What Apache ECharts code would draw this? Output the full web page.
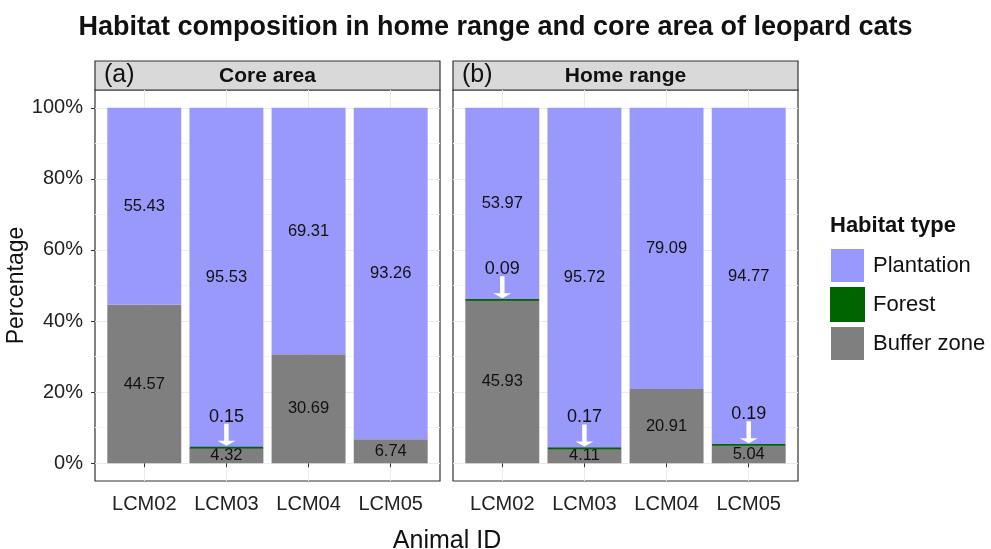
<!DOCTYPE html>
<html>
<head>
<meta charset="utf-8">
<script src="https://cdn.jsdelivr.net/npm/echarts@6/dist/echarts.min.js"></script>
<style>
  html, body { margin: 0; padding: 0; background: #fff; }
  #chart { width: 991px; height: 549px; }
</style>
</head>
<body>
<div id="chart"></div>
<script>
// data
const animalIds = ['LCM02', 'LCM03', 'LCM04', 'LCM05']
const yTicks = [0, 20, 40, 60, 80, 100]
const yMinorTicks = [10, 30, 50, 70, 90]

const coreBuffer = [44.57, 4.32, 30.69, 6.74]
const coreForest = [0, 0.15, 0, 0]
const corePlantation = [55.43, 95.53, 69.31, 93.26]

const homeBuffer = [45.93, 4.11, 20.91, 5.04]
const homeForest = [0.09, 0.17, 0, 0.19]
const homePlantation = [53.97, 95.72, 79.09, 94.77]

const FONT = '"Liberation Sans", Arial, sans-serif'
const colors = { plantation: '#9999fc', forest: '#006400', buffer: '#7f7f7f' }

const chart = echarts.init(document.getElementById('chart'))

const panels = [
  { left: 95, tag: '(a)', title: 'Core area', buffer: coreBuffer, forest: coreForest, plant: corePlantation },
  { left: 453, tag: '(b)', title: 'Home range', buffer: homeBuffer, forest: homeForest, plant: homePlantation }
]
const PW = 345, PT = 90, PH = 391
// ggplot discrete expansion: 0.6 of a band on each side
const unit = PW / 4.2

const grid = []
const xAxis = []
const yAxis = []
const series = []
const graphic = []

panels.forEach((p, i) => {
  const outer = i * 2, inner = i * 2 + 1
  // outer grid: panel border, gridlines, ticks, labels
  grid.push({
    left: p.left, top: PT, width: PW, height: PH,
    show: true, backgroundColor: '#fff', borderColor: '#333', borderWidth: 1.2
  })
  // inner grid: the 4 category bands for the bars
  grid.push({ left: p.left + 0.1 * unit, top: PT, width: 4 * unit, height: PH })

  xAxis.push({
    type: 'value', gridIndex: outer, min: 0.4, max: 4.6,
    axisLine: { show: false },
    axisTick: { show: true, customValues: [1, 2, 3, 4], length: 4, lineStyle: { color: '#333' } },
    axisLabel: {
      customValues: [1, 2, 3, 4], margin: 13,
      formatter: v => animalIds[Math.round(v) - 1],
      fontSize: 20, color: '#222', fontFamily: FONT
    },
    splitLine: { show: true, lineStyle: { color: '#ebebeb', width: 1 } }
  })
  xAxis.push({
    type: 'category', gridIndex: inner, data: animalIds,
    axisLine: { show: false }, axisTick: { show: false }, axisLabel: { show: false },
    splitLine: { show: false }
  })

  // major y (index 3i)
  yAxis.push({
    type: 'value', gridIndex: outer, min: -5, max: 105,
    name: i === 0 ? 'Percentage' : '', nameLocation: 'middle', nameGap: 61,
    nameTextStyle: { fontSize: 23, color: '#111', fontFamily: FONT },
    axisLine: { show: false },
    axisTick: { show: i === 0, customValues: yTicks, length: 4, lineStyle: { color: '#333' } },
    axisLabel: {
      show: i === 0, customValues: yTicks, margin: 12,
      formatter: v => v + '%', fontSize: 20, color: '#222', fontFamily: FONT
    },
    splitLine: { show: true, lineStyle: { color: '#ebebeb', width: 1 } }
  })
  // minor y grid (index 3i+1)
  yAxis.push({
    type: 'value', gridIndex: outer, min: -5, max: 105,
    axisLine: { show: false },
    axisTick: { show: false, customValues: yMinorTicks },
    axisLabel: { show: false },
    splitLine: { show: true, lineStyle: { color: '#f4f4f4', width: 1 } }
  })
  // bar y (index 3i+2)
  yAxis.push({
    type: 'value', gridIndex: inner, min: -5, max: 105,
    axisLine: { show: false }, axisTick: { show: false }, axisLabel: { show: false },
    splitLine: { show: false }
  })

  const xIdx = inner, yIdx = i * 3 + 2
  const lbl = { show: true, position: 'inside', fontSize: 16.5, color: '#111', fontFamily: FONT }
  series.push({
    name: 'Buffer zone', type: 'bar', xAxisIndex: xIdx, yAxisIndex: yIdx, stack: 'p' + i,
    barWidth: '90%', itemStyle: { color: colors.buffer },
    label: lbl,
    data: p.buffer
  })
  series.push({
    name: 'Forest', type: 'bar', xAxisIndex: xIdx, yAxisIndex: yIdx, stack: 'p' + i, z: 3,
    barWidth: '90%', itemStyle: { color: colors.forest, borderColor: colors.forest, borderWidth: 1.7 },
    data: p.forest.map(v => (v > 0 ? v : '-'))
  })
  series.push({
    name: 'Plantation', type: 'bar', xAxisIndex: xIdx, yAxisIndex: yIdx, stack: 'p' + i,
    barWidth: '90%', itemStyle: { color: colors.plantation },
    label: lbl,
    data: p.plant
  })
  // arrows pointing at the thin forest layer
  const arrowData = []
  p.forest.forEach((v, k) => {
    if (v > 0) arrowData.push({ value: [animalIds[k], p.buffer[k] + v], forest: v })
  })
  series.push({
    name: 'arrow' + i, type: 'scatter', xAxisIndex: xIdx, yAxisIndex: yIdx, z: 5,
    symbol: 'path://M7.5,0 L12.5,0 L12.5,17 L20,17 L10,22 L0,17 L7.5,17 Z',
    symbolSize: [18, 22], symbolOffset: [0, -12.5],
    itemStyle: { color: '#fff', opacity: 1 },
    label: {
      show: true, position: 'top', distance: -2,
      formatter: d => d.data.forest.toFixed(2),
      fontSize: 18, color: '#111', fontFamily: FONT
    },
    emphasis: { disabled: true },
    data: arrowData
  })

  // facet strip
  graphic.push({
    type: 'rect', shape: { x: p.left, y: 61, width: PW, height: PT - 61 },
    style: { fill: '#d9d9d9', stroke: '#333', lineWidth: 1.2 }
  })
  graphic.push({
    type: 'text', x: p.left + 9, y: 75.5,
    style: { text: p.tag, font: '25px ' + FONT, fill: '#111', textVerticalAlign: 'middle' }
  })
  graphic.push({
    type: 'text', x: p.left + PW / 2, y: 76,
    style: { text: p.title, font: 'bold 21px ' + FONT, fill: '#111', textAlign: 'center', textVerticalAlign: 'middle' }
  })
})

graphic.push({
  type: 'text', x: 447, y: 541,
  style: { text: 'Animal ID', font: '25px ' + FONT, fill: '#111', textAlign: 'center', textVerticalAlign: 'middle' }
})
graphic.push({
  type: 'text', x: 830, y: 226,
  style: { text: 'Habitat type', font: 'bold 22px ' + FONT, fill: '#111', textVerticalAlign: 'middle' }
})

chart.setOption({
  animation: false,
  textStyle: { fontFamily: FONT },
  title: {
    text: 'Habitat composition in home range and core area of leopard cats',
    left: 'center', top: 9,
    textStyle: { fontSize: 27, fontWeight: 'bold', color: '#111', fontFamily: FONT }
  },
  legend: {
    orient: 'vertical', left: 825, top: 244,
    data: ['Plantation', 'Forest', 'Buffer zone'],
    icon: 'rect', itemWidth: 33, itemHeight: 33, itemGap: 5,
    textStyle: { fontSize: 22, color: '#111', fontFamily: FONT, padding: [0, 0, 0, 4] },
    selectedMode: false
  },
  grid, xAxis, yAxis, series, graphic
})
</script>
</body>
</html>
